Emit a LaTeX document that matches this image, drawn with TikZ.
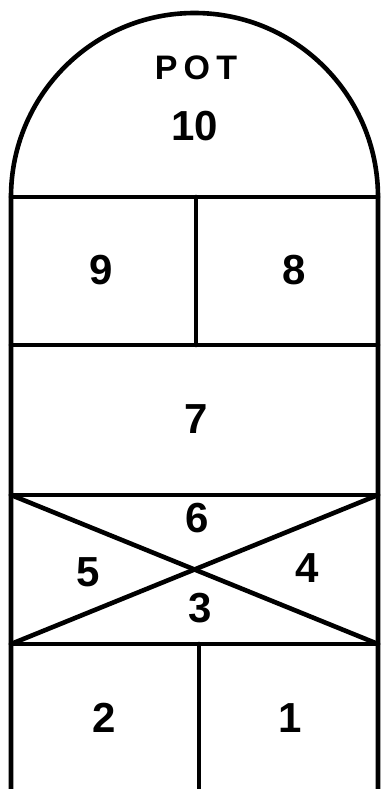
\documentclass[tikz,border=0pt]{standalone}
\usepackage{fontspec}
\setmainfont{Liberation Sans}
\usepackage{tikz}
\usetikzlibrary{positioning}

\begin{document}
\begin{tikzpicture}[
  x=0.5pt, y=0.5pt,
  court/.style={line width=2.3pt, line cap=round, line join=round},
  num/.style={font=\bfseries\fontsize{21}{21}\selectfont, inner sep=0pt},
  pot/.style={font=\bfseries\fontsize{17}{17}\selectfont\addfontfeature{LetterSpace=18}, inner sep=0pt}
]
\useasboundingbox (0,0) rectangle (382,789);

% corners of the rows, top to bottom
\coordinate (l1) at (11,592);  \coordinate (r1) at (378,592);
\coordinate (l2) at (11,444);  \coordinate (r2) at (378,444);
\coordinate (l3) at (11,294);  \coordinate (r3) at (378,294);
\coordinate (l4) at (11,145);  \coordinate (r4) at (378,145);
\coordinate (l5) at (11,0);    \coordinate (r5) at (378,0);
\coordinate (m1) at (196,592); \coordinate (m2) at (196,444);
\coordinate (m4) at (199,145); \coordinate (m5) at (199,0);

% outline
\draw[court] (l5) -- (l1) arc[start angle=180, end angle=0, x radius=183.5, y radius=184] -- (r5);
\draw[court] (l1) -- (r1);
\draw[court] (l2) -- (r2);
\draw[court] (l3) -- (r3);
\draw[court] (l4) -- (r4);
\draw[court] (m1) -- (m2);
\draw[court] (m4) -- (m5);
\draw[court] (l3) -- (r4);
\draw[court] (l4) -- (r3);

% labels
\node[pot] (pot) at (196,721) {POT};
\node[num] (n10) at (195,663) {10};
\node[num] (n9) at (101,519) {9};
\node[num] (n8) at (294,519) {8};
\node[num] (n7) at (196,370) {7};
\node[num] (n6) at (197,271) {6};
\node[num] (n5) at (88,217) {5};
\node[num] (n4) at (307,221) {4};
\node[num] (n3) at (200,181) {3};
\node[num] (n2) at (104,71) {2};
\node[num] (n1) at (290,71) {1};
\end{tikzpicture}
\end{document}
